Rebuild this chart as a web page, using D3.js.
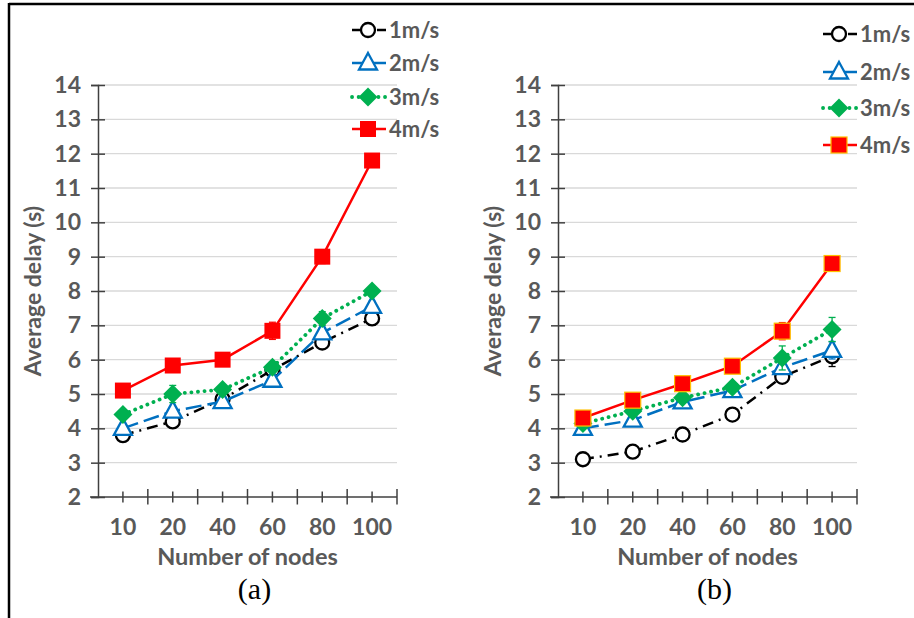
<!DOCTYPE html>
<html>
<head>
<meta charset="utf-8">
<script src="https://cdn.jsdelivr.net/npm/d3@7"></script>
<style>
    body { margin: 0; background: #fff; }
    svg { display: block; }
</style>
</head>
<body>
<svg id="chart" width="914" height="618"></svg>
<script>
// number of nodes (x categories)
const nodes = ["10", "20", "40", "60", "80", "100"];
const yTicks = [2, 3, 4, 5, 6, 7, 8, 9, 10, 11, 12, 13, 14];
const speeds = ["1m/s", "2m/s", "3m/s", "4m/s"];

// panel (a)
const a1 = [3.8, 4.2, 4.85, 5.7, 6.5, 7.2];
const a2 = [4.0, 4.5, 4.78, 5.4, 6.78, 7.55];
const a3 = [4.4, 5.0, 5.13, 5.78, 7.2, 8.0];
const a4 = [5.1, 5.83, 6.0, 6.84, 9.0, 11.8];
const a1Err = [0.1, 0.1, 0.1, 0.1, 0.1, 0.2];
const a2Err = [0.1, 0.1, 0.1, 0.1, 0.15, 0.15];
const a3Err = [0.1, 0.25, 0.1, 0.15, 0.2, 0.1];
const a4Err = [0.2, 0.2, 0.15, 0.25, 0.2, 0.15];

// panel (b)
const b1 = [3.1, 3.32, 3.82, 4.4, 5.5, 6.1];
const b2 = [4.0, 4.24, 4.77, 5.1, 5.77, 6.27];
const b3 = [4.14, 4.5, 4.89, 5.2, 6.05, 6.88];
const b4 = [4.3, 4.82, 5.3, 5.81, 6.83, 8.8];
const b1Err = [0.1, 0.1, 0.2, 0.1, 0.1, 0.3];
const b2Err = [0.1, 0.1, 0.1, 0.1, 0.15, 0.25];
const b3Err = [0.1, 0.1, 0.1, 0.1, 0.35, 0.35];
const b4Err = [0.1, 0.1, 0.1, 0.1, 0.25, 0.15];

const styles = [
    {color: "#000000", dash: "11,6,2,6", width: 2.5, cap: "butt", marker: "circle"},
    {color: "#0070C0", dash: "16,6", width: 2.5, cap: "butt", marker: "triangle"},
    {color: "#00B050", dash: "0.1,6.5", width: 3.8, cap: "round", marker: "diamond"},
    {color: "#FF0000", dash: null, width: 2.5, cap: "butt", marker: "square"}
];

const svg = d3.select("#chart");
const font = "Lato, 'Open Sans', sans-serif";
const grey = "#595959";

// outer frame (top and left edges visible)
svg.append("line").attr("x1", 9).attr("x2", 914).attr("y1", 4).attr("y2", 4)
    .attr("stroke", "#000").attr("stroke-width", 2.5);
svg.append("line").attr("x1", 9).attr("x2", 9).attr("y1", 3).attr("y2", 618)
    .attr("stroke", "#000").attr("stroke-width", 2.5);

function drawMarker(g, type, color, squareStroke) {
    if (type === "circle") {
        g.append("circle").attr("r", 7)
            .attr("fill", "#fff").attr("stroke", color).attr("stroke-width", 2.3);
    } else if (type === "triangle") {
        g.append("path").attr("d", "M0,-10L9,6.5L-9,6.5Z")
            .attr("fill", "#fff").attr("stroke", color).attr("stroke-width", 2.3);
    } else if (type === "diamond") {
        g.append("path").attr("d", "M0,-9.5L9.5,0L0,9.5L-9.5,0Z")
            .attr("fill", color);
    } else {
        g.append("rect").attr("x", -8).attr("y", -8).attr("width", 16).attr("height", 16)
            .attr("fill", color)
            .attr("stroke", squareStroke || color).attr("stroke-width", squareStroke ? 1.2 : 0);
    }
}

function drawPanel(cfg) {
    const g = svg.append("g");

    const x = d3.scaleBand().domain(nodes).range([cfg.x0, cfg.x1]).padding(0);
    const y = d3.scaleLinear().domain([2, 14]).range([497, 85]);

    // gridlines
    g.append("g").selectAll("line")
        .data(yTicks.filter(d => d > 2))
        .join("line")
        .attr("x1", cfg.x0).attr("x2", cfg.x1)
        .attr("y1", d => y(d)).attr("y2", d => y(d))
        .attr("stroke", "#d9d9d9").attr("stroke-width", 1.3);

    // y axis
    const yAxis = g.append("g")
        .attr("transform", `translate(${cfg.x0},0)`)
        .call(d3.axisLeft(y).tickValues(yTicks).tickSize(7).tickPadding(10));
    yAxis.select(".domain").attr("stroke", "#404040").attr("stroke-width", 1.5);
    yAxis.selectAll(".tick line").attr("x2", 7).attr("x1", -7)
        .attr("stroke", "#404040").attr("stroke-width", 1.5);
    yAxis.selectAll(".tick text")
        .attr("x", -17)
        .style("font-family", font).style("font-size", "23px")
        .style("font-weight", "bold").attr("fill", grey);

    // x axis
    const xAxis = g.append("g")
        .attr("transform", `translate(0,${y(2)})`)
        .call(d3.axisBottom(x).tickSize(0).tickPadding(22));
    xAxis.select(".domain").attr("d", `M${cfg.x0 - 8},0H${cfg.x1}`)
        .attr("stroke", "#404040").attr("stroke-width", 1.5);
    xAxis.selectAll(".tick text")
        .style("font-family", font).style("font-size", "23px")
        .style("font-weight", "bold").attr("fill", grey);
    // category centre ticks (short) and boundary ticks (long)
    xAxis.selectAll(".tick").append("line")
        .attr("y1", -5.5).attr("y2", 5.5)
        .attr("stroke", "#404040").attr("stroke-width", 1.5);
    xAxis.append("g").selectAll("line")
        .data(nodes.slice(1).concat(["end"]))
        .join("line")
        .attr("x1", d => d === "end" ? cfg.x1 : x(d))
        .attr("x2", d => d === "end" ? cfg.x1 : x(d))
        .attr("y1", -8).attr("y2", 7.5)
        .attr("stroke", "#404040").attr("stroke-width", 1.5);

    // axis titles
    g.append("text")
        .attr("x", (cfg.x0 + cfg.x1) / 2).attr("y", 565)
        .attr("text-anchor", "middle")
        .style("font-family", font).style("font-size", "23.5px")
        .style("font-weight", "bold").attr("fill", grey)
        .text("Number of nodes");
    g.append("text")
        .attr("transform", `translate(${cfg.x0 - 57},291) rotate(-90)`)
        .attr("text-anchor", "middle")
        .style("font-family", font).style("font-size", "23px")
        .style("font-weight", "bold").attr("fill", grey)
        .text("Average delay (s)");

    // panel caption
    g.append("text")
        .attr("x", (cfg.x0 + cfg.x1) / 2 + 7).attr("y", 599)
        .attr("text-anchor", "middle")
        .style("font-family", "'Liberation Serif', 'DejaVu Serif', serif").style("font-size", "30px")
        .attr("fill", "#000")
        .text(cfg.caption);

    // series
    const line = d3.line()
        .x((d, i) => x(nodes[i]) + x.bandwidth() / 2)
        .y(d => y(d));

    cfg.series.forEach((vals, s) => {
        const st = styles[s];
        const errs = cfg.errors[s];
        const sg = g.append("g");

        sg.append("path")
            .datum(vals)
            .attr("d", line)
            .attr("fill", "none")
            .attr("stroke", st.color)
            .attr("stroke-width", st.width)
            .attr("stroke-linecap", st.cap)
            .attr("stroke-dasharray", st.dash);

        // error bars
        const eb = sg.append("g").selectAll("g")
            .data(vals.map((v, i) => ({v: v, e: errs[i], i: i})))
            .join("g")
            .attr("transform", d => `translate(${x(nodes[d.i]) + x.bandwidth() / 2},0)`);
        eb.append("line")
            .attr("y1", d => y(d.v - d.e)).attr("y2", d => y(d.v + d.e))
            .attr("stroke", st.color).attr("stroke-width", 1.3);
        eb.append("line")
            .attr("x1", -3.5).attr("x2", 3.5)
            .attr("y1", d => y(d.v + d.e)).attr("y2", d => y(d.v + d.e))
            .attr("stroke", st.color).attr("stroke-width", 1.3);
        eb.append("line")
            .attr("x1", -3.5).attr("x2", 3.5)
            .attr("y1", d => y(d.v - d.e)).attr("y2", d => y(d.v - d.e))
            .attr("stroke", st.color).attr("stroke-width", 1.3);

        // markers
        vals.forEach((v, i) => {
            const mg = sg.append("g")
                .attr("transform", `translate(${x(nodes[i]) + x.bandwidth() / 2},${y(v)})`);
            drawMarker(mg, st.marker, st.color, cfg.squareStroke);
        });
    });

    // legend
    speeds.forEach((name, s) => {
        const st = styles[s];
        const ly = cfg.legendY[s];
        const lg = g.append("g").attr("transform", `translate(${cfg.legendX},${ly})`);
        lg.append("line")
            .attr("x1", 0).attr("x2", 34).attr("y1", 0).attr("y2", 0)
            .attr("stroke", st.color).attr("stroke-width", st.width)
            .attr("stroke-linecap", st.cap)
            .attr("stroke-dasharray", st.dash);
        const mg = lg.append("g").attr("transform", "translate(16,0)");
        drawMarker(mg, st.marker, st.color, cfg.squareStroke);
        lg.append("text")
            .attr("x", 37).attr("y", 0).attr("dy", "0.36em")
            .style("font-family", font).style("font-size", "22px")
            .style("font-weight", "bold").attr("fill", grey)
            .text(name);
    });
}

drawPanel({
    x0: 98, x1: 397, caption: "(a)",
    series: [a1, a2, a3, a4],
    errors: [a1Err, a2Err, a3Err, a4Err],
    legendX: 352, legendY: [30, 63, 97, 129],
    squareStroke: null
});

drawPanel({
    x0: 558, x1: 857, caption: "(b)",
    series: [b1, b2, b3, b4],
    errors: [b1Err, b2Err, b3Err, b4Err],
    legendX: 823, legendY: [34, 72, 108, 145],
    squareStroke: "#FFC000"
});
</script>
</body>
</html>
